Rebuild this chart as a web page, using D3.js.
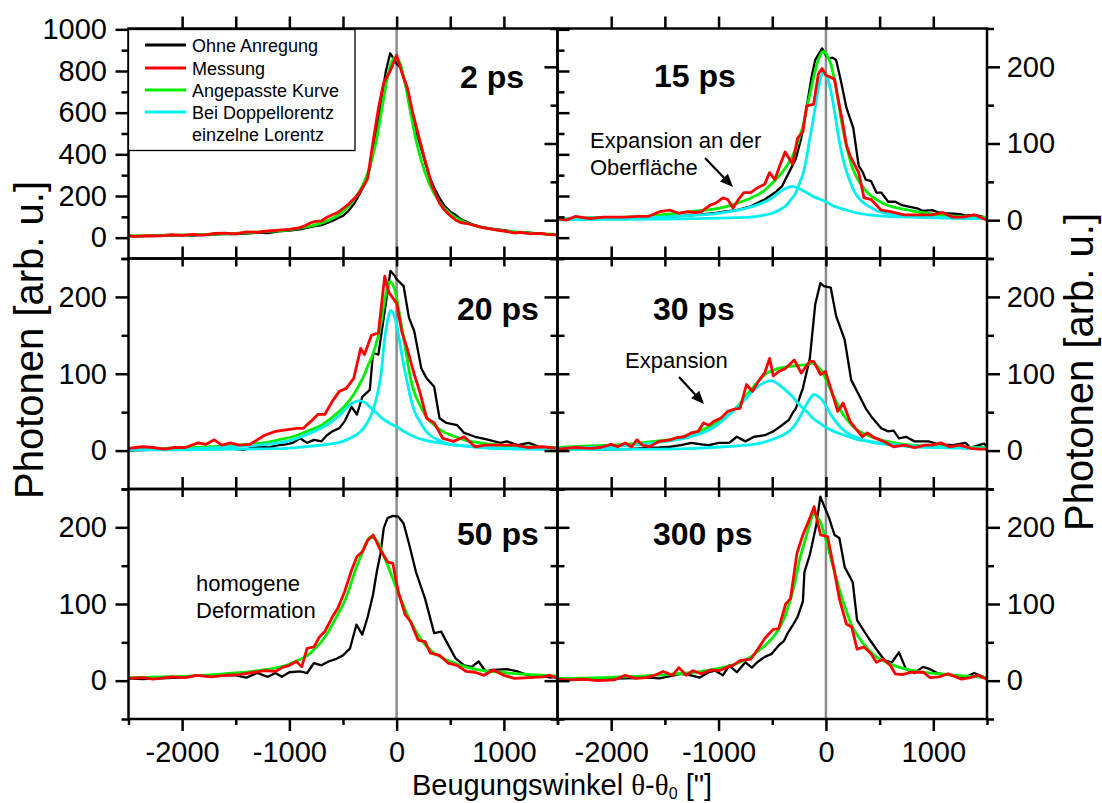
<!DOCTYPE html>
<html><head><meta charset="utf-8">
<script src="https://cdn.jsdelivr.net/npm/d3@7"></script>
<style>
body{margin:0;background:#fff}
svg{display:block}
text{font-family:"Liberation Sans",Arial,sans-serif;fill:#000}
</style>
</head><body>
<svg id="chart" width="1102" height="803"></svg>
<script>
// ---- data: angle [arcsec], photons [arb. u.] ----
const panelTitles = ["2 ps", "15 ps", "20 ps", "30 ps", "50 ps", "300 ps"];
const legendLabels = ["Ohne Anregung", "Messung", "Angepasste Kurve", "Bei Doppellorentz", "einzelne Lorentz"];
const xMajorTicks = [-2000, -1000, 0, 1000];
const xMinorTicks = [-2500, -1500, -500, 500, 1500];
const xInnerTicks = [-2000, -1500, -1000, -500, 0, 500, 1000];
const yTopLeftMajor = [0, 200, 400, 600, 800, 1000];
const yTopLeftMinor = [-100, 100, 300, 500, 700, 900];
const ySmallMajor = [0, 100, 200];
const ySmallMinor = [-50, 50, 150, 250];

// 2 ps
const unexcited02 = [[-2500,8],[-2400,6],[-2300,8],[-2200,9],[-2100,10],[-2000,12],[-1900,10],[-1800,14],[-1700,15],[-1600,18],[-1500,17],[-1400,20],[-1300,24],[-1200,22],[-1100,30],[-1000,34],[-900,40],[-800,52],[-700,60],[-600,80],[-500,105],[-450,128],[-400,160],[-350,205],[-300,255],[-250,330],[-200,470],[-150,640],[-100,800],[-60,885],[-30,860],[0,835],[40,815],[80,740],[120,650],[160,570],[200,480],[250,390],[300,300],[350,240],[400,190],[450,150],[500,125],[550,110],[600,88],[700,65],[800,50],[900,42],[1000,36],[1100,28],[1200,26],[1300,20],[1400,17],[1500,12]];
const measured02 = [[-2500,10],[-2450,6],[-2400,7],[-2300,10],[-2200,9],[-2100,14],[-2000,11],[-1900,16],[-1800,12],[-1700,20],[-1600,22],[-1500,18],[-1400,28],[-1300,26],[-1200,32],[-1100,36],[-1000,40],[-900,48],[-850,58],[-800,72],[-750,78],[-700,80],[-650,98],[-600,110],[-550,120],[-500,140],[-450,160],[-400,185],[-350,215],[-300,255],[-270,285],[-220,460],[-170,620],[-120,745],[-60,800],[0,875],[50,790],[100,720],[150,600],[200,500],[250,400],[280,345],[330,250],[400,165],[450,130],[500,105],[550,85],[600,72],[650,68],[700,62],[750,55],[800,48],[900,40],[950,35],[1000,32],[1050,28],[1100,22],[1150,26],[1200,22],[1250,18],[1300,21],[1350,20],[1400,16],[1450,15],[1500,12]];
const fit02 = [[-2500,9],[-2250,11],[-2000,13],[-1750,16],[-1500,21],[-1250,28],[-1000,38],[-900,46],[-800,56],[-700,70],[-600,92],[-500,125],[-400,180],[-300,270],[-250,340],[-200,440],[-150,580],[-100,730],[-50,840],[-10,865],[30,840],[80,740],[130,600],[180,470],[230,370],[300,265],[400,170],[500,115],[600,82],[700,62],[800,49],[1000,33],[1250,22],[1500,16]];

// 15 ps
const unexcited15 = [[-2500,2],[-2200,3],[-1900,4],[-1600,4],[-1400,5],[-1200,7],[-1050,9],[-950,11],[-830,13],[-700,18],[-570,27],[-475,36],[-410,44],[-345,62],[-280,80],[-230,107],[-180,147],[-135,186],[-100,209],[-36,224],[0,215],[30,211],[60,212],[95,209],[145,178],[190,147],[255,120],[305,71],[345,62],[370,53],[420,51],[470,36],[515,36],[580,24],[645,24],[700,20],[760,18],[860,15],[900,12],[990,13],[1050,10],[1120,9],[1250,8],[1300,6],[1380,7],[1450,5],[1500,2]];
const measured15 = [[-2500,2],[-2420,0],[-2330,5],[-2200,2],[-2070,4],[-1870,4],[-1740,5],[-1650,5],[-1550,11],[-1450,13],[-1370,9],[-1290,11],[-1220,10],[-1160,11],[-1075,20],[-1030,22],[-960,29],[-915,27],[-865,16],[-815,27],[-765,36],[-700,36],[-640,42],[-570,47],[-525,62],[-475,53],[-425,73],[-380,89],[-310,73],[-265,107],[-215,115],[-180,149],[-115,151],[-70,191],[-36,198],[0,189],[80,184],[110,160],[150,132],[190,98],[225,84],[305,62],[355,29],[420,27],[515,13],[600,11],[730,7],[860,7],[990,7],[1085,10],[1180,4],[1280,4],[1380,7],[1500,0]];
const fit15 = [[-2500,2],[-2200,3],[-1870,4],[-1600,6],[-1385,9],[-1200,12],[-1060,14],[-950,17],[-830,22],[-730,27],[-640,33],[-570,39],[-510,47],[-460,54],[-410,62],[-360,72],[-310,84],[-280,94],[-250,106],[-210,125],[-180,145],[-140,170],[-100,195],[-60,213],[-26,220],[10,215],[45,204],[80,183],[110,160],[140,133],[175,107],[210,86],[240,71],[290,55],[340,44],[400,34],[470,27],[560,20],[660,16],[770,13],[890,10],[1050,7],[1220,5],[1380,4],[1500,4]];
const narrowLorentz15 = [[-2500,0.5],[-2000,1],[-1500,1.5],[-1200,2],[-900,3],[-700,4],[-600,6],[-500,9],[-440,13],[-380,18],[-330,26],[-280,36],[-240,50],[-210,62],[-180,82],[-150,107],[-120,130],[-100,147],[-70,172],[-45,188],[-26,193],[-5,190],[20,182],[45,169],[80,142],[110,115],[140,92],[175,71],[220,52],[270,36],[330,25],[400,18],[480,12],[565,9],[700,6],[890,4],[1100,3],[1300,2],[1500,2]];
const broadLorentz15 = [[-2500,2],[-2200,2.5],[-1900,3],[-1550,4],[-1300,6],[-1060,8],[-900,11],[-730,16],[-640,20],[-570,24],[-500,29],[-440,36],[-380,41],[-310,44],[-250,41],[-180,36],[-120,31],[-50,27],[0,24],[80,18],[170,14],[270,10],[400,7],[560,5],[800,4],[1100,3],[1500,2]];

// 20 ps
const unexcited20 = [[-2500,0],[-2300,1],[-2030,1],[-1850,2],[-1700,2],[-1550,3],[-1430,1],[-1300,5],[-1200,4],[-1100,7],[-1030,8],[-970,10],[-900,16],[-835,10],[-770,14],[-700,12],[-650,20],[-600,25],[-535,29],[-485,38],[-420,57],[-370,47],[-320,70],[-250,79],[-220,127],[-170,125],[-120,173],[-85,207],[-58,234],[-20,228],[0,223],[65,214],[115,173],[165,155],[230,107],[280,94],[350,83],[400,42],[465,36],[565,33],[630,23],[730,18],[830,15],[965,10],[1030,12],[1130,7],[1230,10],[1330,5],[1400,0],[1500,3]];
const measured20 = [[-2500,3],[-2430,4],[-2370,5],[-2270,4],[-2170,2],[-2070,4],[-1970,4],[-1850,10],[-1780,8],[-1700,14],[-1630,7],[-1550,10],[-1470,7],[-1370,8],[-1300,14],[-1230,20],[-1130,25],[-1030,27],[-935,29],[-870,29],[-800,38],[-735,47],[-670,47],[-600,64],[-535,77],[-470,81],[-400,94],[-335,133],[-300,125],[-235,150],[-170,153],[-111,227],[-85,212],[-68,205],[0,192],[48,155],[98,133],[165,99],[215,77],[280,42],[350,36],[430,16],[530,12],[630,18],[730,5],[830,7],[965,7],[1100,7],[1230,4],[1360,5],[1500,3]];
const fit20 = [[-2500,2],[-2200,3],[-1870,4],[-1600,6],[-1370,8],[-1200,11],[-1100,14],[-970,18],[-870,23],[-780,28],[-700,33],[-620,41],[-535,51],[-470,60],[-400,73],[-350,85],[-300,99],[-260,113],[-235,120],[-200,135],[-168,151],[-140,170],[-118,190],[-90,210],[-68,220],[-40,217],[0,199],[30,175],[65,147],[100,118],[130,94],[170,74],[215,60],[250,50],[300,40],[360,32],[430,25],[530,19],[630,14],[780,10],[960,7],[1200,5],[1500,4]];
const narrowLorentz20 = [[-2500,1],[-2000,1],[-1500,2],[-1030,3],[-850,5],[-700,7],[-600,9],[-500,12],[-420,17],[-335,25],[-280,35],[-235,47],[-200,62],[-168,81],[-140,105],[-118,138],[-90,165],[-70,178],[-52,182],[-30,178],[0,164],[30,140],[65,112],[100,88],[131,68],[170,50],[215,38],[270,26],[330,18],[400,13],[500,8],[650,6],[800,4],[1100,2],[1500,1.5]];
const broadLorentz20 = [[-2500,1],[-2100,2],[-1830,3],[-1550,5],[-1300,7],[-1100,10],[-970,14],[-870,19],[-770,25],[-680,31],[-600,38],[-530,46],[-470,55],[-410,62],[-350,65],[-290,62],[-235,55],[-180,48],[-135,42],[-70,36],[0,31],[80,24],[165,18],[280,13],[400,10],[550,7],[800,4],[1100,3],[1500,2]];

// 30 ps
const unexcited30 = [[-2500,2],[-2200,1],[-1870,2],[-1550,4],[-1450,5],[-1350,7],[-1255,10],[-1160,8],[-1090,7],[-1000,10],[-900,10],[-830,18],[-750,12],[-670,18],[-570,20],[-490,25],[-410,33],[-345,40],[-310,49],[-280,55],[-215,81],[-150,120],[-100,190],[-52,218],[-20,214],[45,212],[95,175],[175,144],[235,92],[305,73],[370,55],[435,42],[515,29],[580,25],[630,26],[680,16],[745,18],[825,12],[955,12],[1050,8],[1180,7],[1300,10],[1345,4],[1475,9],[1500,5]];
const measured30 = [[-2500,2],[-2420,3],[-2330,4],[-2200,3],[-2100,4],[-2000,8],[-1940,5],[-1870,10],[-1810,5],[-1760,14],[-1710,7],[-1645,5],[-1550,12],[-1450,14],[-1385,17],[-1320,18],[-1255,23],[-1190,25],[-1140,36],[-1090,33],[-1045,38],[-980,42],[-915,51],[-850,54],[-800,55],[-740,86],[-685,77],[-620,92],[-570,101],[-525,120],[-490,97],[-440,103],[-375,107],[-295,118],[-230,101],[-150,116],[-115,116],[-50,99],[-5,103],[45,81],[110,51],[160,62],[225,38],[275,29],[340,18],[385,23],[450,17],[535,12],[630,5],[730,7],[825,4],[925,7],[990,7],[1070,10],[1150,5],[1250,7],[1345,3],[1425,2],[1500,2]];
const fit30 = [[-2500,4],[-2200,6],[-1870,8],[-1600,12],[-1385,16],[-1200,24],[-1060,33],[-960,41],[-900,47],[-820,58],[-735,73],[-650,87],[-570,99],[-500,104],[-440,107],[-370,109],[-310,110],[-240,111],[-180,112],[-120,114],[-80,110],[-36,103],[0,93],[30,83],[70,71],[110,60],[160,47],[210,38],[270,29],[340,23],[420,18],[500,14],[600,11],[730,8],[900,6],[1050,5],[1250,4],[1500,4]];
const narrowLorentz30 = [[-2500,1],[-2000,1.5],[-1500,2],[-1220,3],[-950,5],[-740,7],[-600,10],[-510,14],[-420,19],[-345,25],[-290,33],[-250,42],[-215,51],[-182,60],[-150,67],[-125,72],[-110,73],[-90,72],[-60,69],[-36,66],[0,58],[46,47],[95,37],[145,29],[210,22],[305,16],[420,11],[565,8],[800,5],[1050,4],[1300,3],[1500,2]];
const broadLorentz30 = [[-2500,3],[-2250,4],[-2030,5],[-1800,7],[-1550,11],[-1400,14],[-1290,17],[-1170,22],[-1060,29],[-980,37],[-900,47],[-830,56],[-770,64],[-700,75],[-640,83],[-580,88],[-513,91],[-450,87],[-380,79],[-310,70],[-250,60],[-180,51],[-120,42],[-50,35],[15,29],[90,24],[175,20],[280,15],[400,12],[560,9],[730,7],[950,5],[1200,4],[1500,3]];

// 50 ps
const unexcited50 = [[-2500,3],[-2370,2],[-2200,3],[-2030,4],[-1830,7],[-1630,7],[-1500,7],[-1400,4],[-1300,10],[-1200,5],[-1130,10],[-1070,5],[-1000,11],[-900,12],[-835,10],[-770,23],[-700,20],[-635,25],[-570,28],[-500,33],[-435,42],[-375,73],[-320,60],[-270,83],[-220,112],[-185,142],[-150,166],[-120,199],[-85,212],[-35,215],[15,214],[65,205],[115,179],[180,142],[265,107],[350,62],[415,64],[480,47],[550,29],[630,20],[700,18],[765,25],[830,12],[900,14],[1030,15],[1130,12],[1230,7],[1365,7],[1430,4],[1500,5]];
const measured50 = [[-2500,3],[-2370,4],[-2270,2],[-2100,5],[-1970,4],[-1870,7],[-1730,5],[-1600,7],[-1470,8],[-1370,10],[-1230,13],[-1130,12],[-1070,17],[-1000,20],[-935,25],[-885,18],[-835,42],[-770,44],[-720,57],[-670,64],[-600,83],[-550,94],[-485,116],[-420,144],[-370,162],[-320,168],[-270,183],[-218,190],[-150,170],[-85,155],[-35,153],[15,116],[80,86],[130,77],[200,53],[265,51],[315,36],[400,33],[480,23],[565,20],[650,12],[730,11],[815,7],[900,14],[1000,7],[1100,3],[1230,4],[1365,5],[1430,7],[1500,3]];
const fit50 = [[-2500,4],[-2200,5],[-1950,6],[-1700,8],[-1500,10],[-1300,13],[-1150,16],[-1030,20],[-930,26],[-830,33],[-760,42],[-700,51],[-650,61],[-600,73],[-550,86],[-500,99],[-450,116],[-420,129],[-380,146],[-335,162],[-290,177],[-250,187],[-210,186],[-170,179],[-130,166],[-85,151],[-40,135],[0,120],[50,103],[100,86],[150,72],[200,60],[260,48],[330,38],[410,31],[500,25],[600,20],[730,15],[880,12],[1030,10],[1250,8],[1500,6]];

// 300 ps
const unexcited300 = [[-2500,0],[-2200,2],[-1870,3],[-1650,4],[-1550,3],[-1450,6],[-1350,9],[-1255,7],[-1175,4],[-1090,11],[-1030,13],[-960,7],[-900,20],[-830,11],[-750,24],[-690,17],[-640,24],[-570,31],[-505,35],[-440,46],[-390,52],[-360,61],[-310,72],[-265,83],[-215,103],[-200,142],[-150,164],[-90,203],[-52,240],[-20,229],[30,212],[80,190],[125,186],[175,148],[225,135],[250,128],[290,79],[340,68],[400,55],[470,41],[550,26],[615,24],[680,37],[745,15],[825,10],[905,18],[970,15],[1050,9],[1180,7],[1280,3],[1380,10],[1500,3]];
const measured300 = [[-2500,2],[-2390,1],[-2260,2],[-2130,0],[-1970,1],[-1870,7],[-1775,3],[-1675,4],[-1595,7],[-1515,12],[-1430,7],[-1370,17],[-1300,7],[-1240,13],[-1160,9],[-1075,14],[-995,13],[-930,17],[-865,20],[-800,26],[-700,28],[-635,41],[-570,55],[-490,67],[-440,68],[-375,100],[-330,107],[-270,166],[-215,190],[-150,212],[-110,227],[-50,190],[15,188],[80,142],[125,107],[190,74],[240,70],[290,41],[355,44],[420,35],[470,24],[535,28],[600,20],[645,9],[710,8],[795,11],[905,11],[970,4],[1055,5],[1135,9],[1265,2],[1345,4],[1410,7],[1500,2]];
const fit300 = [[-2500,3],[-2100,4],[-1710,6],[-1500,8],[-1290,10],[-1150,12],[-1000,16],[-880,20],[-770,26],[-690,32],[-610,41],[-550,48],[-490,57],[-440,67],[-390,81],[-350,97],[-310,116],[-280,134],[-250,155],[-215,173],[-180,190],[-145,207],[-117,218],[-85,214],[-50,207],[-20,193],[15,177],[45,160],[80,142],[120,122],[160,103],[200,87],[240,72],[290,60],[340,50],[400,40],[470,31],[550,25],[630,20],[750,15],[890,11],[1050,9],[1215,7],[1500,4]];

// ---- layout ----
const svg = d3.select("#chart");
const colX = [[128.5, 557.5], [557.5, 987]];
const rowY = [[28.5, 258.5], [258.5, 489], [489, 719]];
const xDomain = [-2500, 1500];
const C = {ref: "#000000", meas: "#ff0000", fit: "#00ee00", comp: "#00f0f0", zero: "#8a8a8a"};

const xScales = colX.map(r => d3.scaleLinear().domain(xDomain).range(r));
// left-hand and right-hand intensity scales for each row
const yLeft = rowY.map((r, i) => d3.scaleLinear().domain(i === 0 ? [-100, 1004] : [-50, 250]).range([r[1], r[0]]));
const yRight = rowY.map(r => d3.scaleLinear().domain([-50, 250]).range([r[1], r[0]]));

const panels = [
  {title: panelTitles[0], col: 0, row: 0, side: "left",  ref: unexcited02,  meas: measured02,  fit: fit02,  comps: []},
  {title: panelTitles[1], col: 1, row: 0, side: "right", ref: unexcited15,  meas: measured15,  fit: fit15,  comps: [narrowLorentz15, broadLorentz15]},
  {title: panelTitles[2], col: 0, row: 1, side: "left",  ref: unexcited20,  meas: measured20,  fit: fit20,  comps: [narrowLorentz20, broadLorentz20]},
  {title: panelTitles[3], col: 1, row: 1, side: "right", ref: unexcited30,  meas: measured30,  fit: fit30,  comps: [narrowLorentz30, broadLorentz30]},
  {title: panelTitles[4], col: 0, row: 2, side: "left",  ref: unexcited50,  meas: measured50,  fit: fit50,  comps: []},
  {title: panelTitles[5], col: 1, row: 2, side: "right", ref: unexcited300, meas: measured300, fit: fit300, comps: []}
];
const titlePos = [[460, 88], [654, 87], [457, 320], [653, 320], [457, 545], [653, 545]];

const plot = svg.append("g");

panels.forEach((p, i) => {
  const x = xScales[p.col];
  const y = p.side === "left" ? yLeft[p.row] : yRight[p.row];
  const [y0, y1] = rowY[p.row];
  const g = plot.append("g");

  // zero-angle reference line
  g.append("line").attr("x1", x(0)).attr("x2", x(0)).attr("y1", y0).attr("y2", y1)
    .attr("stroke", C.zero).attr("stroke-width", 2.5);

  const lin = d3.line().x(d => x(d[0])).y(d => y(d[1]));
  const smooth = d3.line().x(d => x(d[0])).y(d => y(d[1])).curve(d3.curveMonotoneX);

  g.append("path").attr("d", lin(p.ref)).attr("fill", "none").attr("stroke", C.ref)
    .attr("stroke-width", 2.3).attr("stroke-linejoin", "round");
  g.append("path").attr("d", smooth(p.fit)).attr("fill", "none").attr("stroke", C.fit)
    .attr("stroke-width", 2.8);
  p.comps.forEach(c => g.append("path").attr("d", smooth(c)).attr("fill", "none")
    .attr("stroke", C.comp).attr("stroke-width", 2.8));
  g.append("path").attr("d", lin(p.meas)).attr("fill", "none").attr("stroke", C.meas)
    .attr("stroke-width", 2.8).attr("stroke-linejoin", "round");

  g.append("text").attr("x", titlePos[i][0]).attr("y", titlePos[i][1])
    .attr("font-size", 32).attr("font-weight", "bold").text(p.title);
});

// ---- frames and axes ----
const axes = svg.append("g");
function styleAxis(sel, labels, size) {
  sel.select(".domain").remove();
  sel.selectAll(".tick line").attr("stroke", "#000").attr("stroke-width", 2.5);
  sel.selectAll(".tick text").attr("font-size", size || 29).attr("font-family", "Liberation Sans, Arial, sans-serif")
    .attr("fill", "#000");
  if (!labels) sel.selectAll(".tick text").remove();
}
function addAxis(gen, tx, ty, labels) {
  const a = axes.append("g").attr("transform", `translate(${tx},${ty})`).call(gen);
  styleAxis(a, labels);
  return a;
}

rowY.forEach((r, ri) => {
  const yl = yLeft[ri], yr = yRight[ri];
  const lMajor = ri === 0 ? yTopLeftMajor : ySmallMajor;
  const lMinor = ri === 0 ? yTopLeftMinor : ySmallMinor;
  // outer left axis
  addAxis(d3.axisLeft(yl).tickValues(lMajor).tickSize(13).tickPadding(8.5).tickFormat(d3.format("d")), colX[0][0], 0, true);
  addAxis(d3.axisLeft(yl).tickValues(lMinor).tickSize(7), colX[0][0], 0, false);
  // outer right axis
  addAxis(d3.axisRight(yr).tickValues(ySmallMajor).tickSize(13).tickPadding(6.7).tickFormat(d3.format("d")), colX[1][1], 0, true);
  addAxis(d3.axisRight(yr).tickValues(ySmallMinor).tickSize(7), colX[1][1], 0, false);
  // shared divider: left scale ticks point right, right scale ticks point left
  addAxis(d3.axisRight(yl).tickValues(lMajor).tickSize(12), colX[1][0], 0, false);
  addAxis(d3.axisRight(yl).tickValues(lMinor).tickSize(7), colX[1][0], 0, false);
  addAxis(d3.axisLeft(yr).tickValues(ySmallMajor).tickSize(13), colX[1][0], 0, false);
  addAxis(d3.axisLeft(yr).tickValues(ySmallMinor).tickSize(7), colX[1][0], 0, false);
});

xScales.forEach(x => {
  // top edge
  addAxis(d3.axisTop(x).tickValues(xInnerTicks).tickSize(12), 0, rowY[0][0], false);
  // boundaries between rows
  [rowY[1][0], rowY[2][0]].forEach(yb => {
    addAxis(d3.axisTop(x).tickValues(xInnerTicks).tickSize(12), 0, yb, false);
    addAxis(d3.axisBottom(x).tickValues(xInnerTicks).tickSize(8), 0, yb, false);
  });
  // bottom edge with labels
  addAxis(d3.axisBottom(x).tickValues(xMajorTicks).tickSize(12).tickPadding(10).tickFormat(d3.format("d")), 0, rowY[2][1], true);
  addAxis(d3.axisBottom(x).tickValues(xMinorTicks).tickSize(6), 0, rowY[2][1], false);
});
axes.selectAll(".tick text").each(function () {
  const t = d3.select(this);
  t.text(t.text().replace("−", "-"));
});

// panel frames
panels.forEach(p => {
  const [xa, xb] = colX[p.col], [ya, yb] = rowY[p.row];
  axes.append("rect").attr("x", xa).attr("y", ya).attr("width", xb - xa).attr("height", yb - ya)
    .attr("fill", "none").attr("stroke", "#000").attr("stroke-width", 2.5);
});

// ---- legend ----
const leg = svg.append("g");
leg.append("rect").attr("x", 128.5).attr("y", 29.5).attr("width", 226.5).attr("height", 121)
  .attr("fill", "#fff").attr("stroke", "#000").attr("stroke-width", 1.3);
const legColors = [C.ref, C.meas, C.fit, C.comp];
const legRows = [45, 68, 90, 112];
legColors.forEach((c, i) => {
  leg.append("line").attr("x1", 145).attr("x2", 186).attr("y1", legRows[i]).attr("y2", legRows[i])
    .attr("stroke", c).attr("stroke-width", 3);
});
legendLabels.forEach((t, i) => {
  const yy = (i < 4 ? legRows[i] : 134) + 6.5;
  leg.append("text").attr("x", 192).attr("y", yy).attr("font-size", 18).text(t);
});

// ---- annotations ----
const ann = svg.append("g");
function note(lines, x0, y0, dy) {
  lines.forEach((t, i) => ann.append("text").attr("x", x0).attr("y", y0 + i * dy).attr("font-size", 22).text(t));
}
function arrow(x1, y1, x2, y2) {
  const a = Math.atan2(y2 - y1, x2 - x1), L = 13, W = 5.5;
  const bx = x2 - L * Math.cos(a), by = y2 - L * Math.sin(a);
  ann.append("line").attr("x1", x1).attr("y1", y1).attr("x2", bx).attr("y2", by)
    .attr("stroke", "#000").attr("stroke-width", 2.2);
  ann.append("path").attr("d", `M${x2},${y2}L${bx + W * Math.sin(a)},${by - W * Math.cos(a)}L${bx - W * Math.sin(a)},${by + W * Math.cos(a)}Z`)
    .attr("fill", "#000");
}
note(["Expansion an der", "Oberfläche"], 590, 148, 27);
arrow(705, 158, 733, 187);
note(["Expansion"], 625, 368, 27);
arrow(679, 377, 704, 404);
note(["homogene", "Deformation"], 196, 591, 27);

// ---- axis titles ----
const xt = svg.append("text").attr("x", 562).attr("y", 795).attr("font-size", 29).attr("text-anchor", "middle");
xt.append("tspan").text("Beugungswinkel ");
xt.append("tspan").attr("font-family", "Liberation Serif, serif").text("θ");
xt.append("tspan").text("-");
xt.append("tspan").attr("font-family", "Liberation Serif, serif").text("θ");
xt.append("tspan").attr("font-size", 16).attr("dy", 4).text("0");
xt.append("tspan").attr("dy", -4).text(" [\"]");

svg.append("text").attr("transform", "translate(43,340) rotate(-90)").attr("text-anchor", "middle")
  .attr("font-size", 40).text("Photonen [arb. u.]");
svg.append("text").attr("transform", "translate(1093,372) rotate(-90)").attr("text-anchor", "middle")
  .attr("font-size", 40).text("Photonen [arb. u.]");
</script>
</body></html>
